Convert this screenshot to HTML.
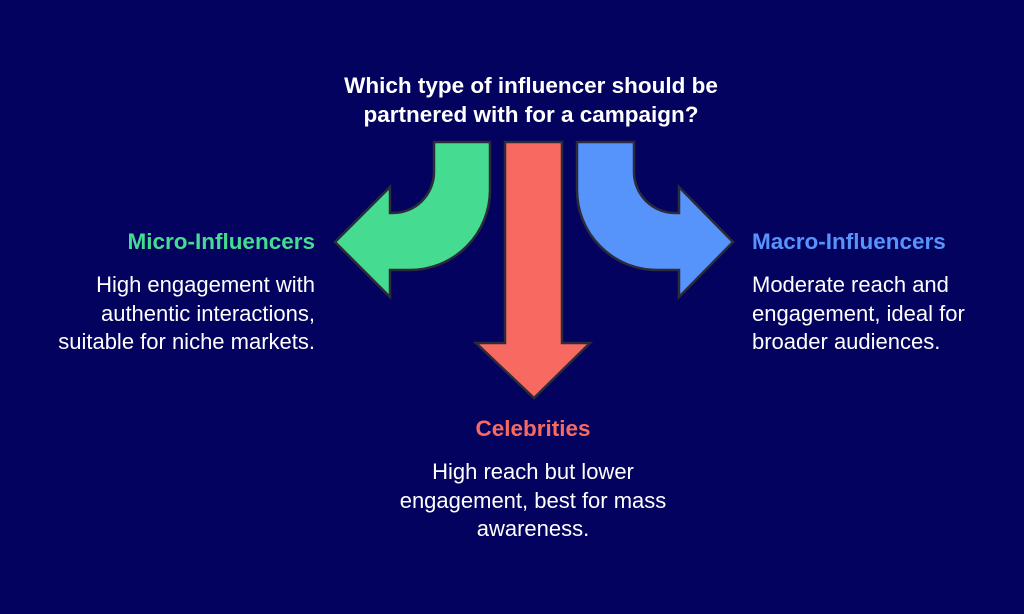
<!DOCTYPE html>
<html><head><style>
body{margin:0;width:1024px;height:614px;background:#03035f;overflow:hidden;font-family:"Liberation Sans",sans-serif;position:relative;color:#fff}
.t{position:absolute;font-size:22px;line-height:28.5px}
.b{font-weight:bold;font-size:22.5px}
</style></head><body>
<svg width="1024" height="614" style="position:absolute;left:0;top:0">
<g stroke="#2b2b3a" stroke-width="2.5" stroke-linejoin="miter">
<path d="M505 142 H562 V343 H590 L534 398 L476 343 H505 Z" fill="#f86a61"/>
<path d="M434 142 H490 V190 A80 80 0 0 1 410 270 H390 V297 L335 242 L390 187 V213 H393 A41 41 0 0 0 434 172 Z" fill="#45dc92"/>
<path d="M634 142 H577 V190 A80 80 0 0 0 657 270 H679 V297 L733 242 L679 187 V213 H675 A41 41 0 0 1 634 172 Z" fill="#5693fb"/>
</g>
</svg>
<div class="t b" style="left:281px;width:500px;top:72px;text-align:center">Which type of influencer should be<br>partnered with for a campaign?</div>
<div class="t b" style="left:15px;width:300px;top:228px;text-align:right;color:#45dc92">Micro-Influencers</div>
<div class="t" style="left:0px;width:315px;top:271px;text-align:right">High engagement with<br>authentic interactions,<br>suitable for niche markets.</div>
<div class="t b" style="left:752px;width:270px;top:228px;color:#5693fb">Macro-Influencers</div>
<div class="t" style="left:752px;width:270px;top:271px">Moderate reach and<br>engagement, ideal for<br>broader audiences.</div>
<div class="t b" style="left:383px;width:300px;top:415px;text-align:center;color:#f86a61">Celebrities</div>
<div class="t" style="left:333px;width:400px;top:458px;text-align:center">High reach but lower<br>engagement, best for mass<br>awareness.</div>
</body></html>
